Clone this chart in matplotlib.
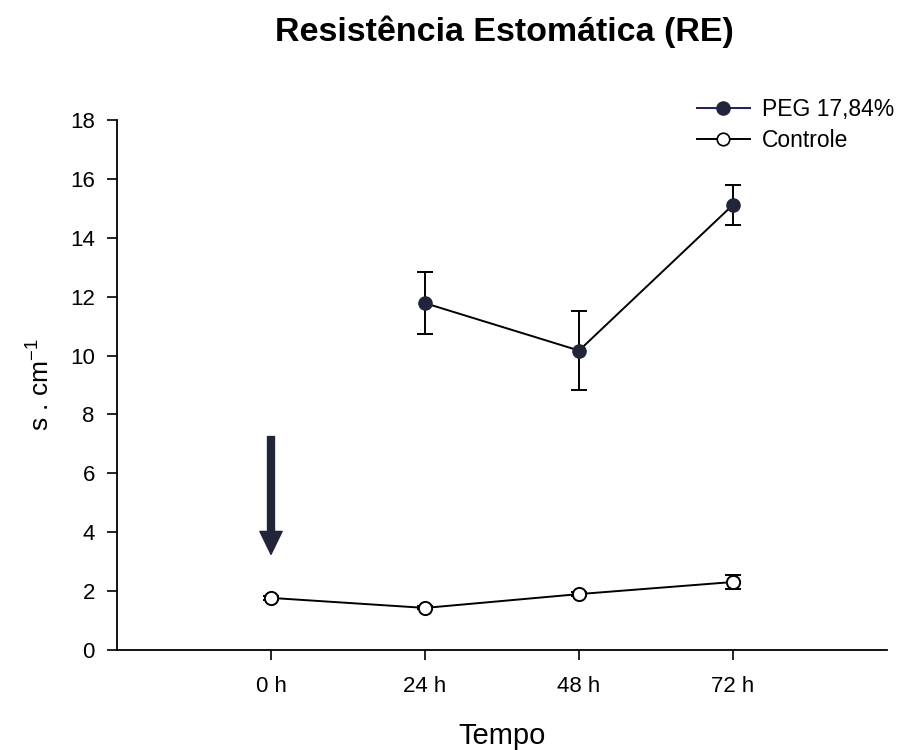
import matplotlib
matplotlib.use("Agg")
import matplotlib.pyplot as plt

plt.rcParams["font.family"] = ["Liberation Sans", "DejaVu Sans"]
plt.rcParams["mathtext.fontset"] = "custom"
plt.rcParams["mathtext.rm"] = "Liberation Sans"

# -------------------------
# Data
# -------------------------
tempo_labels = ["0 h", "24 h", "48 h", "72 h"]
tempo_pos = [0, 1, 2, 3]

peg_pos = [1, 2, 3]
peg_mean = [11.78, 10.17, 15.12]
peg_err = [1.05, 1.33, 0.68]

ctrl_mean = [1.77, 1.43, 1.90, 2.31]
ctrl_err = [0.07, 0.05, 0.08, 0.25]

arrow_x = 0
arrow_top = 7.25
arrow_tip = 3.25

fig = plt.figure(figsize=(9.02, 7.5), dpi=100)
ax = fig.add_axes([0.1297, 0.1333, 0.8537, 0.7067])

navy = "#22243a"

ax.errorbar(peg_pos, peg_mean, yerr=peg_err, color="black", lw=1.4,
            marker="o", ms=9.5, mfc=navy, mec=navy, ecolor="black",
            elinewidth=1.4, capsize=6, capthick=1.4, zorder=3)
ax.errorbar(tempo_pos, ctrl_mean, yerr=ctrl_err, color="black", lw=1.4,
            marker="o", ms=9.5, mfc="white", mec="black", mew=1.4,
            ecolor="black", elinewidth=1.4, capsize=6, capthick=1.4, zorder=3)

# legend handles
leg_h1, = ax.plot([], [], color="#1a1a6a", lw=1.4, marker="o", ms=9.5,
                  mfc=navy, mec=navy)
leg_h2, = ax.plot([], [], color="black", lw=1.4, marker="o", ms=9,
                  mfc="white", mec="black", mew=1.2)
fig.legend([leg_h1, leg_h2], ["PEG 17,84%", "Controle"], loc="upper left",
           bbox_to_anchor=(697 / 902, 1 - 98 / 750), frameon=False,
           fontsize=16.5, handlelength=2.3, handletextpad=0.55,
           labelspacing=0.35, borderpad=0, borderaxespad=0)

# arrow marking the start of treatment
ax.annotate("", xy=(arrow_x, arrow_tip), xytext=(arrow_x, arrow_top),
            arrowprops=dict(width=5, headwidth=16, headlength=16.5,
                            facecolor=navy, edgecolor=navy, shrink=0))

# -------------------------
# Styling
# -------------------------
ax.set_xlim(-1, 4)
ax.set_ylim(0, 18)
ax.set_yticks(range(0, 19, 2))
ax.set_xticks(tempo_pos)
ax.set_xticklabels(tempo_labels)
ax.tick_params(direction="out", length=7, width=1.2, labelsize=16, pad=12)
ax.tick_params(axis="y", pad=9)
for s in ["top", "right"]:
    ax.spines[s].set_visible(False)
for s in ["left", "bottom"]:
    ax.spines[s].set_linewidth(1.3)

ax.set_xlabel("Tempo", fontsize=21, labelpad=18)
ax.set_ylabel("s . cm$^{-1}$", fontsize=19, labelpad=12)
fig.text(0.559, 0.958, "Resistência Estomática (RE)", ha="center",
         va="center", fontsize=24.5, fontweight="bold")

fig.savefig("out.png", dpi=100)
